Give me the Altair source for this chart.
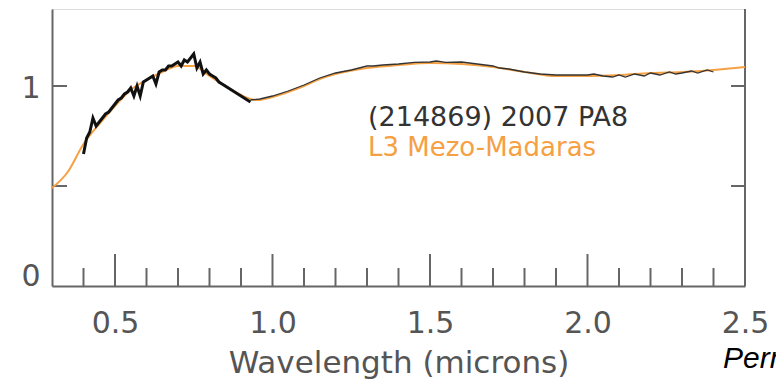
import altair as alt
import pandas as pd

# --- Reflectance spectrum of (214869) 2007 PA8 and meteorite L3 Mezo-Madaras ---

# Meteorite reference spectrum (smooth, full range)
model_wl = [0.30, 0.35, 0.40, 0.45, 0.50, 0.55, 0.60, 0.65, 0.70, 0.75,
            0.80, 0.85, 0.90, 0.95, 1.00, 1.05, 1.10, 1.15, 1.20, 1.30,
            1.40, 1.50, 1.60, 1.70, 1.80, 1.90, 2.00, 2.10, 2.20, 2.30,
            2.40, 2.50]
model_refl = [0.49, 0.57, 0.71, 0.81, 0.90, 0.98, 1.03, 1.07, 1.10, 1.10,
              1.05, 1.00, 0.955, 0.93, 0.945, 0.97, 1.00, 1.035, 1.06, 1.09,
              1.105, 1.115, 1.11, 1.095, 1.07, 1.05, 1.05, 1.055, 1.065, 1.07,
              1.08, 1.095]

# Asteroid visible spectrum
vis_wl = [0.40, 0.41, 0.42, 0.43, 0.44, 0.45, 0.46, 0.47, 0.48, 0.49,
          0.50, 0.51, 0.52, 0.53, 0.54, 0.55, 0.56, 0.57, 0.58, 0.59,
          0.60, 0.61, 0.62, 0.63, 0.64, 0.65, 0.66, 0.67, 0.68, 0.69,
          0.70, 0.71, 0.72, 0.73, 0.74, 0.75, 0.76, 0.77, 0.78, 0.79,
          0.80, 0.81, 0.82, 0.83, 0.84, 0.85, 0.86, 0.87, 0.88, 0.89,
          0.90, 0.91, 0.92, 0.93]
vis_refl = [0.66, 0.74, 0.77, 0.84, 0.80, 0.82, 0.84, 0.86, 0.87, 0.89,
            0.91, 0.93, 0.94, 0.96, 0.97, 0.99, 0.95, 1.00, 0.95, 1.02,
            1.03, 1.04, 1.05, 1.01, 1.07, 1.08, 1.08, 1.10, 1.10, 1.11,
            1.12, 1.10, 1.13, 1.12, 1.14, 1.16, 1.09, 1.12, 1.06, 1.08,
            1.06, 1.05, 1.04, 1.02, 1.01, 1.00, 0.99, 0.98, 0.97, 0.96,
            0.95, 0.94, 0.93, 0.92]

# Asteroid near-infrared spectrum
nir_wl = [0.93, 0.96, 1.00, 1.05, 1.10, 1.15, 1.20, 1.25, 1.30, 1.32,
          1.35, 1.40, 1.45, 1.50, 1.52, 1.55, 1.60, 1.65, 1.70, 1.72,
          1.75, 1.80, 1.85, 1.90, 1.95, 2.00, 2.02, 2.05, 2.08, 2.10,
          2.12, 2.15, 2.18, 2.20, 2.23, 2.26, 2.28, 2.30, 2.33, 2.35,
          2.38, 2.40]
nir_refl = [0.93, 0.935, 0.95, 0.975, 1.005, 1.04, 1.065, 1.08, 1.10, 1.10,
            1.105, 1.11, 1.118, 1.12, 1.125, 1.118, 1.12, 1.11, 1.10, 1.09,
            1.085, 1.07, 1.06, 1.055, 1.055, 1.055, 1.06, 1.05, 1.045, 1.055,
            1.045, 1.06, 1.05, 1.065, 1.055, 1.07, 1.06, 1.065, 1.075, 1.065,
            1.08, 1.07]

x_major_ticks = [0.5, 1.0, 1.5, 2.0]
x_minor_ticks = [0.4, 0.6, 0.7, 0.8, 0.9, 1.1, 1.2, 1.3, 1.4, 1.6, 1.7,
                 1.8, 1.9, 2.1, 2.2, 2.3, 2.4]
y_ticks = [0.5, 1.0]
x_labels = [0.5, 1.0, 1.5, 2.0, 2.5]
y_labels = [0, 1]

asteroid_name = "(214869) 2007 PA8"
meteorite_name = "L3 Mezo-Madaras"
credit = "Permission"

W, H = 693, 277
FONT = "DejaVu Sans"
AXIS_GREY = "#666666"
ORANGE = "#F5A043"

x_scale = alt.Scale(domain=[0.3, 2.5], nice=False, zero=False)
y_scale = alt.Scale(domain=[0, 1.385], nice=False, zero=False)

model_df = pd.DataFrame({"wl": model_wl, "r": model_refl})
vis_df = pd.DataFrame({"wl": vis_wl, "r": vis_refl})
nir_df = pd.DataFrame({"wl": nir_wl, "r": nir_refl})

x_axis = alt.Axis(
    values=x_labels, format=".1f", tickSize=0, grid=False,
    domainColor=AXIS_GREY, domainWidth=2,
    labelFont=FONT, labelFontSize=30, labelColor="#555555", labelPadding=22,
    labelFlush=False, labelOverlap=False,
    title="Wavelength (microns)", titleFont=FONT, titleFontSize=31,
    titleFontWeight="normal", titleColor="#555555", titlePadding=10,
)
y_axis = alt.Axis(
    values=y_labels, format="d", tickSize=0, grid=False,
    domainColor=AXIS_GREY, domainWidth=2,
    labelFont=FONT, labelFontSize=30, labelColor="#555555", labelPadding=12,
    labelOffset={"condition": {"test": "datum.value == 0", "value": -10}, "value": 2},
    title=None,
)

model_line = alt.Chart(model_df).mark_line(
    color=ORANGE, strokeWidth=2, interpolate="monotone"
).encode(
    x=alt.X("wl:Q", scale=x_scale, axis=x_axis),
    y=alt.Y("r:Q", scale=y_scale, axis=y_axis),
)

vis_line = alt.Chart(vis_df).mark_line(color="#111111", strokeWidth=3).encode(
    x=alt.X("wl:Q", scale=x_scale), y=alt.Y("r:Q", scale=y_scale)
)

nir_line = alt.Chart(nir_df).mark_line(color="#333333", strokeWidth=1.3).encode(
    x=alt.X("wl:Q", scale=x_scale), y=alt.Y("r:Q", scale=y_scale)
)

# Inward-pointing tick marks along the bottom, left and right axes
major = alt.Chart(pd.DataFrame({"t": x_major_ticks})).mark_rule(
    color=AXIS_GREY, strokeWidth=2
).encode(x=alt.X("t:Q", scale=x_scale), y=alt.value(H), y2=alt.value(H - 32))

minor = alt.Chart(pd.DataFrame({"t": x_minor_ticks})).mark_rule(
    color=AXIS_GREY, strokeWidth=2
).encode(x=alt.X("t:Q", scale=x_scale), y=alt.value(H), y2=alt.value(H - 18))

left_ticks = alt.Chart(pd.DataFrame({"t": y_ticks})).mark_rule(
    color=AXIS_GREY, strokeWidth=2
).encode(y=alt.Y("t:Q", scale=y_scale), x=alt.value(0), x2=alt.value(15))

right_ticks = alt.Chart(pd.DataFrame({"t": y_ticks})).mark_rule(
    color=AXIS_GREY, strokeWidth=2
).encode(y=alt.Y("t:Q", scale=y_scale), x=alt.value(W), x2=alt.value(W - 14))

right_axis = alt.Chart(pd.DataFrame({"t": [0]})).mark_rule(
    color=AXIS_GREY, strokeWidth=2
).encode(x=alt.value(W), y=alt.value(0), y2=alt.value(H))

# Legend text
label_a = alt.Chart(pd.DataFrame({"s": [asteroid_name]})).mark_text(
    font=FONT, fontSize=27, color="#333333", align="left", baseline="middle"
).encode(text="s:N", x=alt.value(316), y=alt.value(109))

label_b = alt.Chart(pd.DataFrame({"s": [meteorite_name]})).mark_text(
    font=FONT, fontSize=26, color=ORANGE, align="left", baseline="middle"
).encode(text="s:N", x=alt.value(316), y=alt.value(139))

credit_text = alt.Chart(pd.DataFrame({"s": [credit]})).mark_text(
    font="Liberation Sans", fontSize=30, fontStyle="italic", color="#000000",
    align="left", baseline="middle"
).encode(text="s:N", x=alt.value(671), y=alt.value(350))

chart = alt.layer(
    minor, major, left_ticks, right_ticks, right_axis,
    model_line, nir_line, vis_line,
    label_a, label_b, credit_text,
).properties(
    width=W, height=H,
    autosize=alt.AutoSizeParams(type="none"),
    padding={"left": 52, "top": 9, "right": 31, "bottom": 98},
).configure_view(stroke=None).configure(background="white")

chart.save("out.html", embed_options={"renderer": "svg", "actions": False})
